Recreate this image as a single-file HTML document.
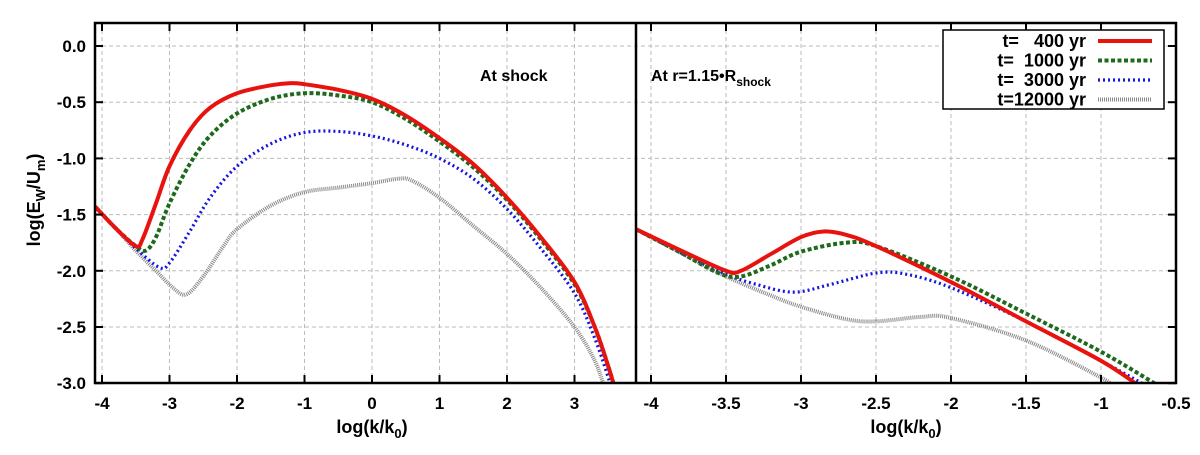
<!DOCTYPE html>
<html><head><meta charset="utf-8"><style>
body{margin:0;background:#fff;}
svg text{font-family:"Liberation Sans",Arial,sans-serif;font-weight:bold;white-space:pre;}
</style></head><body>
<svg id="chart" width="1200" height="450" xmlns="http://www.w3.org/2000/svg">
<defs>
<clipPath id="clipL"><rect x="95" y="23" width="541" height="360"/></clipPath>
<clipPath id="clipR"><rect x="636" y="23" width="540" height="360"/></clipPath>
</defs>
<g id="grid"></g>
<g id="series"></g>
<g id="axes"></g>
<text transform="translate(40,200) rotate(-90)" text-anchor="middle" font-size="18">log(E<tspan font-size="13" dy="5">W</tspan><tspan dy="-5">/U</tspan><tspan font-size="13" dy="5">m</tspan><tspan dy="-5">)</tspan></text>
<text x="372" y="433" text-anchor="middle" font-size="18">log(k/k<tspan font-size="13" dy="5">0</tspan><tspan dy="-5">)</tspan></text>
<text x="906" y="433" text-anchor="middle" font-size="18">log(k/k<tspan font-size="13" dy="5">0</tspan><tspan dy="-5">)</tspan></text>
<text x="480" y="81" font-size="16">At shock</text>
<text x="651" y="81" font-size="16">At r=1.15•R<tspan font-size="12" dy="5">shock</tspan></text>
<g>
<rect x="943" y="30" width="221" height="79" fill="#fff" stroke="#000" stroke-width="1.5"/>
<g id="legend-items"></g>
</g>
</svg>
<script>
const yTicks=[0.0,-0.5,-1.0,-1.5,-2.0,-2.5,-3.0];
const yTickLabels=["0.0","-0.5","-1.0","-1.5","-2.0","-2.5","-3.0"];
const xTicksL=[-4,-3,-2,-1,0,1,2,3];
const xTicksR=[-4,-3.5,-3,-2.5,-2,-1.5,-1,-0.5];
const seriesNames=["t=   400 yr","t=  1000 yr","t=  3000 yr","t=12000 yr"];
const L_red=[[-4.1,-1.43],[-3.8,-1.62],[-3.5,-1.78],[-3.4,-1.72],[-3.2,-1.4],[-3,-1.07],[-2.7,-0.75],[-2.4,-0.55],[-2,-0.42],[-1.5,-0.35],[-1.2,-0.33],[-1,-0.34],[-0.5,-0.39],[0,-0.47],[0.5,-0.62],[1,-0.82],[1.5,-1.05],[2,-1.35],[2.5,-1.7],[3,-2.1],[3.3,-2.5],[3.5,-2.85],[3.6,-3.05]];
const L_green=[[-4.1,-1.43],[-3.8,-1.62],[-3.5,-1.78],[-3.35,-1.82],[-3.2,-1.7],[-3,-1.4],[-2.7,-1.05],[-2.4,-0.8],[-2,-0.6],[-1.5,-0.47],[-1,-0.42],[-0.5,-0.44],[0,-0.5],[0.5,-0.65],[1,-0.85],[1.5,-1.08],[2,-1.37],[2.5,-1.72],[3,-2.12],[3.3,-2.5],[3.5,-2.85],[3.6,-3.05]];
const L_blue=[[-4.1,-1.43],[-3.8,-1.62],[-3.5,-1.8],[-3.15,-1.97],[-3,-1.93],[-2.7,-1.65],[-2.4,-1.35],[-2,-1.07],[-1.5,-0.87],[-1,-0.77],[-0.5,-0.76],[0,-0.8],[0.5,-0.88],[1,-1.0],[1.5,-1.18],[2,-1.45],[2.5,-1.8],[3,-2.2],[3.3,-2.6],[3.5,-2.95],[3.55,-3.05]];
const L_gray=[[-4.1,-1.43],[-3.8,-1.62],[-3.5,-1.82],[-3.2,-2.0],[-2.95,-2.15],[-2.75,-2.21],[-2.5,-2.05],[-2.2,-1.78],[-2,-1.63],[-1.5,-1.42],[-1,-1.3],[-0.5,-1.26],[0,-1.22],[0.4,-1.18],[0.6,-1.2],[1,-1.35],[1.5,-1.6],[2,-1.85],[2.5,-2.15],[3,-2.5],[3.3,-2.8],[3.45,-3.05]];
const R_red=[[-4.1,-1.63],[-3.8,-1.82],[-3.5,-2.0],[-3.4,-2.0],[-3.2,-1.85],[-3,-1.7],[-2.85,-1.65],[-2.7,-1.68],[-2.5,-1.78],[-2,-2.1],[-1.5,-2.45],[-1,-2.8],[-0.75,-3.02]];
const R_green=[[-4.1,-1.63],[-3.8,-1.84],[-3.55,-2.02],[-3.4,-2.05],[-3.2,-1.95],[-3,-1.83],[-2.7,-1.75],[-2.5,-1.78],[-2,-2.05],[-1.5,-2.38],[-1,-2.72],[-0.62,-3.02]];
const R_blue=[[-4.1,-1.63],[-3.8,-1.84],[-3.5,-2.03],[-3.3,-2.12],[-3.05,-2.19],[-2.8,-2.12],[-2.5,-2.02],[-2.3,-2.03],[-2,-2.15],[-1.5,-2.45],[-1,-2.8],[-0.7,-3.02]];
const R_gray=[[-4.1,-1.63],[-3.8,-1.84],[-3.5,-2.05],[-3.2,-2.22],[-3,-2.32],[-2.7,-2.43],[-2.5,-2.45],[-2.2,-2.41],[-2,-2.42],[-1.5,-2.62],[-1,-2.95],[-0.93,-3.02]];

const NS="http://www.w3.org/2000/svg";
const Y0=46, YPX=112.4;
const yS=v=>Y0-v*YPX;
const xL=v=>372+v*67.5;
const xR=v=>1176+(v+0.5)*150;
const styles=[{c:"#e8130f",w:4,d:""},{c:"#1d6a1d",w:4,d:"4,2.5"},{c:"#1515e0",w:3.2,d:"2,3"},{c:"#888",w:4,d:"1,1"}];
function mk(tag,attrs,parent){const e=document.createElementNS(NS,tag);for(const k in attrs)e.setAttribute(k,attrs[k]);parent.appendChild(e);return e;}
const grid=document.getElementById('grid'),axes=document.getElementById('axes'),ser=document.getElementById('series');
yTicks.forEach((v,i)=>{
 const g=mk('line',{x1:95,x2:1176,y1:yS(v),y2:yS(v),stroke:"#bbb","stroke-dasharray":"4,3","stroke-width":1},grid);
 
 
 const t=mk('text',{x:86,y:yS(v)+6,"text-anchor":"end","font-size":17},axes);t.textContent=yTickLabels[i];
 
 
 mk('line',{x1:95,x2:103,y1:yS(v),y2:yS(v),stroke:"#000","stroke-width":2},axes);
 mk('line',{x1:1168,x2:1176,y1:yS(v),y2:yS(v),stroke:"#000","stroke-width":2},axes);
});
xTicksL.forEach(v=>{
 const x=xL(v);
 const g=mk('line',{x1:x,x2:x,y1:23,y2:383,stroke:"#bbb","stroke-dasharray":"4,3","stroke-width":1},grid);
 
 
 mk('line',{x1:x,x2:x,y1:375,y2:383,stroke:"#000","stroke-width":2},axes);
 mk('line',{x1:x,x2:x,y1:23,y2:31,stroke:"#000","stroke-width":2},axes);
 const t=mk('text',{x:x,y:409,"text-anchor":"middle","font-size":17},axes);t.textContent=String(v);
 
 
});
xTicksR.forEach(v=>{
 const x=xR(v);
 const g=mk('line',{x1:x,x2:x,y1:23,y2:383,stroke:"#bbb","stroke-dasharray":"4,3","stroke-width":1},grid);
 
 
 mk('line',{x1:x,x2:x,y1:375,y2:383,stroke:"#000","stroke-width":2},axes);
 mk('line',{x1:x,x2:x,y1:23,y2:31,stroke:"#000","stroke-width":2},axes);
 const t=mk('text',{x:x,y:409,"text-anchor":"middle","font-size":17},axes);t.textContent=String(v);
 
 
});
mk('rect',{x:95,y:23,width:1081,height:360,fill:"none",stroke:"#000","stroke-width":2.5},axes);
mk('line',{x1:636,x2:636,y1:23,y2:383,stroke:"#000","stroke-width":2.5},axes);
function path(data,xs){
 const p=data.map(d=>[xs(d[0]),yS(d[1])]);
 let s="M"+p[0][0]+","+p[0][1];
 for(let i=0;i<p.length-1;i++){
  const a=p[i-1]||p[i],b=p[i],c=p[i+1],d=p[i+2]||c;
  s+=" C"+(b[0]+(c[0]-a[0])/6)+","+(b[1]+(c[1]-a[1])/6)+" "+(c[0]-(d[0]-b[0])/6)+","+(c[1]-(d[1]-b[1])/6)+" "+c[0]+","+c[1];
 }
 return s;
}
const left=[L_red,L_green,L_blue,L_gray],right=[R_red,R_green,R_blue,R_gray];
const names=["t400","t1000","t3000","t12000"];
[3,2,1,0].forEach(i=>{
 const st=styles[i];
 const a=mk('path',{d:path(left[i],xL),fill:"none",stroke:st.c,"stroke-width":st.w,"stroke-dasharray":st.d,"clip-path":"url(#clipL)"},ser);
 
 
 const b=mk('path',{d:path(right[i],xR),fill:"none",stroke:st.c,"stroke-width":st.w,"stroke-dasharray":st.d,"clip-path":"url(#clipR)"},ser);
 
 
});
const li=document.getElementById('legend-items');
seriesNames.forEach((n,i)=>{
 const y=41+i*19.5;
 const t=mk('text',{x:1086,y:y+6,"text-anchor":"end","font-size":18},li);t.textContent=n;
 
 
 const st=styles[i];
 mk('line',{x1:1098,x2:1152,y1:y,y2:y,stroke:st.c,"stroke-width":st.w,"stroke-dasharray":st.d},li);
});
</script>
</body></html>
